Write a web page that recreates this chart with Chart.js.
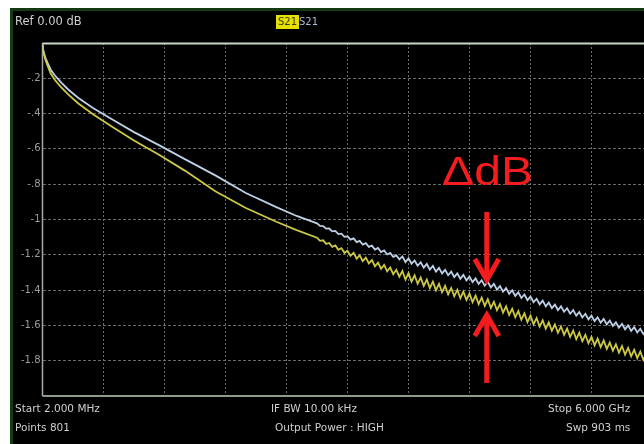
<!DOCTYPE html>
<html>
<head>
<meta charset="utf-8">
<script src="https://cdn.jsdelivr.net/npm/chart.js@4.4.0/dist/chart.umd.min.js"></script>
<style>
html, body { margin: 0; padding: 0; background: #fff; overflow: hidden; width: 644px; height: 444px; }
#screen { position: absolute; left: 10px; top: 8px; width: 660px; height: 460px; background: #000;
          border-left: 3px solid #143a14; border-top: 3px solid #143a14; }
#c { position: absolute; left: 0; top: 0; }
.lbl { position: absolute; font-family: "DejaVu Sans"; font-size: 10.5px; color: #cfcfcf; white-space: nowrap; line-height: 1; }
#ref { font-size: 11.5px; }
#trace1 { background: #e6e000; color: #3a3a00; padding: 2px 2px; font-size: 10px; }
#trace2 { color: #a8b8d4; font-size: 10px; }
</style>
</head>
<body>
<div id="screen"></div>
<canvas id="c" width="660" height="444"></canvas>
<div class="lbl" id="ref" style="left:15px;top:16px">Ref 0.00 dB</div>
<div class="lbl" id="trace1" style="left:276px;top:15px">S21</div>
<div class="lbl" id="trace2" style="left:299px;top:17px">S21</div>
<div class="lbl" style="left:15px;top:403px">Start 2.000 MHz</div>
<div class="lbl" style="left:15px;top:422px">Points 801</div>
<div class="lbl" style="left:271px;top:403px">IF BW 10.00 kHz</div>
<div class="lbl" style="left:275px;top:422px">Output Power : HIGH</div>
<div class="lbl" style="left:548px;top:403px">Stop 6.000 GHz</div>
<div class="lbl" style="left:566px;top:422px">Swp 903 ms</div>
<script>
// Sweep points (GHz)
const freqGHz = [
    0.002, 0.006, 0.015, 0.03, 0.05, 0.08, 0.12, 0.18, 0.25, 0.35,
    0.5, 0.7, 0.9, 1.15, 1.4, 1.7, 2.0, 2.3, 2.5,
    2.70, 2.73, 2.76, 2.79, 2.82, 2.85, 2.88, 2.91, 2.94, 2.97,
    3.00, 3.03, 3.06, 3.09, 3.12, 3.15, 3.18, 3.21, 3.24, 3.27,
    3.30, 3.33, 3.36, 3.39, 3.42, 3.45, 3.48, 3.51, 3.54, 3.57,
    3.60, 3.63, 3.66, 3.69, 3.72, 3.75, 3.78, 3.81, 3.84, 3.87,
    3.90, 3.93, 3.96, 3.99, 4.02, 4.05, 4.08, 4.11, 4.14, 4.17,
    4.20, 4.23, 4.26, 4.29, 4.32, 4.35, 4.38, 4.41, 4.44, 4.47,
    4.50, 4.53, 4.56, 4.59, 4.62, 4.65, 4.68, 4.71, 4.74, 4.77,
    4.80, 4.83, 4.86, 4.89, 4.92, 4.95, 4.98, 5.01, 5.04, 5.07,
    5.10, 5.13, 5.16, 5.19, 5.22, 5.25, 5.28, 5.31, 5.34, 5.37,
    5.40, 5.43, 5.46, 5.49, 5.52, 5.55, 5.58, 5.61, 5.64, 5.67,
    5.70, 5.73, 5.76, 5.79, 5.82, 5.85, 5.88, 5.91, 5.94, 5.97,
    6.00
];

// Upper (blue-white) trace, dB
const s21Blue = [
    -0.010, -0.035, -0.058, -0.085, -0.112, -0.150, -0.183, -0.222, -0.262, -0.310,
    -0.370, -0.438, -0.505, -0.580, -0.658, -0.750, -0.850, -0.930, -0.980,
    -1.022, -1.036, -1.037, -1.052, -1.051, -1.067, -1.065, -1.083, -1.080, -1.098,
    -1.095, -1.114, -1.107, -1.128, -1.121, -1.142, -1.134, -1.155, -1.148, -1.170,
    -1.161, -1.184, -1.175, -1.198, -1.189, -1.212, -1.203, -1.226, -1.209, -1.241,
    -1.220, -1.251, -1.232, -1.262, -1.242, -1.273, -1.252, -1.284, -1.263, -1.295,
    -1.274, -1.305, -1.285, -1.316, -1.295, -1.326, -1.305, -1.336, -1.314, -1.345,
    -1.324, -1.355, -1.334, -1.365, -1.344, -1.375, -1.353, -1.385, -1.365, -1.397,
    -1.377, -1.409, -1.389, -1.421, -1.401, -1.433, -1.413, -1.445, -1.425, -1.457,
    -1.437, -1.469, -1.449, -1.481, -1.460, -1.492, -1.471, -1.502, -1.482, -1.513,
    -1.492, -1.523, -1.503, -1.534, -1.513, -1.545, -1.524, -1.555, -1.534, -1.566,
    -1.545, -1.576, -1.554, -1.585, -1.563, -1.594, -1.573, -1.603, -1.582, -1.613,
    -1.591, -1.622, -1.600, -1.631, -1.610, -1.640, -1.619, -1.649, -1.628, -1.658,
    -1.637
];

// Lower (yellow) trace, dB
const s21Yellow = [
    -0.010, -0.041, -0.067, -0.098, -0.128, -0.172, -0.208, -0.249, -0.290, -0.341,
    -0.405, -0.480, -0.552, -0.635, -0.723, -0.840, -0.935, -1.013, -1.060,
    -1.103, -1.121, -1.118, -1.138, -1.133, -1.155, -1.147, -1.172, -1.162, -1.189,
    -1.177, -1.206, -1.189, -1.222, -1.203, -1.236, -1.216, -1.249, -1.230, -1.265,
    -1.244, -1.279, -1.257, -1.294, -1.272, -1.310, -1.285, -1.324, -1.292, -1.341,
    -1.304, -1.352, -1.316, -1.364, -1.329, -1.376, -1.340, -1.389, -1.352, -1.401,
    -1.364, -1.412, -1.376, -1.424, -1.388, -1.435, -1.399, -1.446, -1.409, -1.456,
    -1.420, -1.468, -1.431, -1.479, -1.442, -1.490, -1.452, -1.501, -1.466, -1.514,
    -1.479, -1.528, -1.492, -1.541, -1.506, -1.554, -1.519, -1.568, -1.532, -1.581,
    -1.545, -1.594, -1.558, -1.607, -1.571, -1.619, -1.583, -1.630, -1.595, -1.642,
    -1.606, -1.653, -1.618, -1.665, -1.629, -1.678, -1.641, -1.689, -1.653, -1.701,
    -1.665, -1.713, -1.675, -1.723, -1.685, -1.733, -1.697, -1.743, -1.707, -1.754,
    -1.717, -1.765, -1.727, -1.775, -1.738, -1.785, -1.748, -1.795, -1.759, -1.805,
    -1.769
];

// Graticule
const xGridGHz = [0, 0.6, 1.2, 1.8, 2.4, 3.0, 3.6, 4.2, 4.8, 5.4, 6.0];
const yTickValues = [-2, -1.8, -1.6, -1.4, -1.2, -1, -0.8, -0.6, -0.4, -0.2, 0];
const yTickLabels = ['', '-1.8', '-1.6', '-1.4', '-1.2', '-1', '-.8', '-.6', '-.4', '-.2', ''];

// ΔdB marker (GHz / dB)
const markerFreq = 4.37;
const markerText = 'ΔdB';
const markerTextPos = { x: 3.93, y: -0.805 };
const downArrow = { from: -0.957, tip: -1.354 };
const upArrow = { from: -1.926, tip: -1.53 };

const toPoints = vals => freqGHz.map((f, i) => ({ x: f, y: vals[i] }));

const edgeOrGrid = (ctx, edges) =>
    (ctx.tick && edges.includes(ctx.tick.value)) ? 'rgba(0,0,0,0)' : 'rgba(125,125,125,0.85)';

const screenPlugin = {
    id: 'screen',
    beforeDatasetsDraw(chart) {
        const { ctx, chartArea: a } = chart;
        ctx.save();
        // left and bottom frame
        ctx.strokeStyle = '#a4aca4';
        ctx.lineWidth = 1.5;
        ctx.beginPath();
        ctx.moveTo(a.left, a.top);
        ctx.lineTo(a.left, a.bottom);
        ctx.stroke();
        ctx.strokeStyle = '#8c9c8c';
        ctx.lineWidth = 2;
        ctx.beginPath();
        ctx.moveTo(a.left, a.bottom);
        ctx.lineTo(a.right, a.bottom);
        ctx.stroke();
        // reference line at top
        ctx.strokeStyle = '#c4d8c4';
        ctx.lineWidth = 2;
        ctx.beginPath();
        ctx.moveTo(a.left, a.top + 0.5);
        ctx.lineTo(a.right, a.top + 0.5);
        ctx.stroke();
        ctx.restore();
    },
    afterDraw(chart) {
        const { ctx, scales: { x, y } } = chart;
        const red = '#f41c1c';
        ctx.save();
        // label
        ctx.font = '40px "Liberation Sans"';
        ctx.fillStyle = red;
        ctx.textBaseline = 'alphabetic';
        const w = ctx.measureText(markerText).width;
        const tx = x.getPixelForValue(markerTextPos.x);
        const ty = y.getPixelForValue(markerTextPos.y);
        ctx.translate(tx, ty);
        ctx.scale(91 / w, 1);
        ctx.fillText(markerText, 0, 0);
        ctx.restore();

        ctx.save();
        ctx.strokeStyle = red;
        ctx.lineWidth = 5;
        ctx.lineJoin = 'miter';
        const px = x.getPixelForValue(markerFreq);
        [downArrow, upArrow].forEach(arr => {
            const y0 = y.getPixelForValue(arr.from);
            const y1 = y.getPixelForValue(arr.tip);
            const dir = Math.sign(y1 - y0);
            ctx.beginPath();
            ctx.moveTo(px, y0);
            ctx.lineTo(px, y1 - dir * 3);
            ctx.stroke();
            ctx.beginPath();
            ctx.moveTo(px - 12, y1 - dir * 23);
            ctx.lineTo(px, y1 - dir * 2);
            ctx.lineTo(px + 12, y1 - dir * 23);
            ctx.stroke();
        });
        ctx.restore();
    }
};

new Chart(document.getElementById('c'), {
    type: 'line',
    data: {
        datasets: [
            {
                label: 'S21 (yellow)',
                data: toPoints(s21Yellow),
                borderColor: 'rgb(204, 200, 70)',
                borderWidth: 1.8,
                pointRadius: 0,
                tension: 0,
                fill: false
            },
            {
                label: 'S21',
                data: toPoints(s21Blue),
                borderColor: 'rgb(190, 208, 230)',
                borderWidth: 1.8,
                pointRadius: 0,
                tension: 0,
                fill: false
            }
        ]
    },
    options: {
        responsive: false,
        animation: false,
        layout: { padding: { left: 0, top: 43, right: 7.5, bottom: 48 } },
        scales: {
            x: {
                type: 'linear',
                min: 0,
                max: 6,
                afterBuildTicks: s => { s.ticks = xGridGHz.map(v => ({ value: v })); },
                ticks: { display: false },
                grid: { color: c => edgeOrGrid(c, [0, 6]), drawTicks: false, lineWidth: 1 },
                border: { display: false, dash: [2, 2] }
            },
            y: {
                type: 'linear',
                min: -2,
                max: 0,
                afterBuildTicks: s => { s.ticks = yTickValues.map(v => ({ value: v })); },
                afterFit: s => { s.width = 42.5; },
                ticks: {
                    callback: (v, i) => yTickLabels[i],
                    color: '#9c9c9c',
                    padding: 2,
                    font: { family: 'DejaVu Sans', size: 10 }
                },
                grid: { color: c => edgeOrGrid(c, [0, -2]), drawTicks: false, lineWidth: 1 },
                border: { display: false, dash: [3, 2] }
            }
        },
        plugins: {
            legend: { display: false },
            tooltip: { enabled: false }
        }
    },
    plugins: [screenPlugin]
});
</script>
</body>
</html>
